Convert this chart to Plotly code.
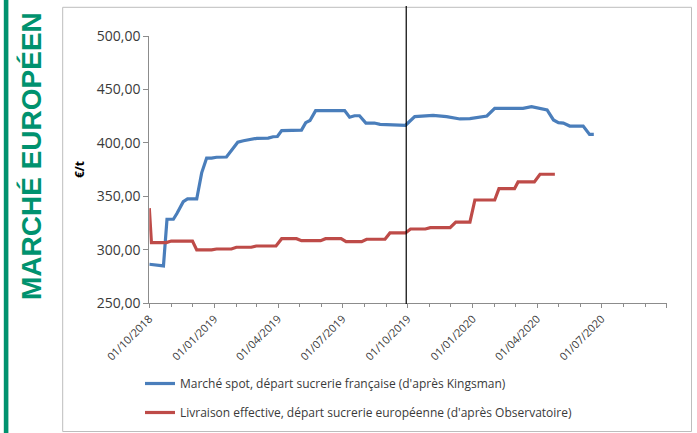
import plotly.graph_objects as go

# ---------------- data ----------------
spot_dates = ["2018-10-01", "2018-10-09", "2018-10-20", "2018-10-21", "2018-10-26", "2018-11-04",
              "2018-11-09", "2018-11-18", "2018-11-24", "2018-12-07", "2018-12-14", "2018-12-21",
              "2018-12-28", "2019-01-04", "2019-01-18", "2019-01-24", "2019-02-03", "2019-02-11",
              "2019-02-23", "2019-03-02", "2019-03-18", "2019-03-25", "2019-03-31", "2019-04-06",
              "2019-05-04", "2019-05-10", "2019-05-16", "2019-05-24", "2019-07-04", "2019-07-11",
              "2019-07-18", "2019-07-25", "2019-08-03", "2019-08-15", "2019-08-23", "2019-09-28",
              "2019-10-11", "2019-10-23", "2019-11-06", "2019-11-25", "2019-12-14", "2019-12-28",
              "2020-01-07", "2020-01-21", "2020-02-01", "2020-03-12", "2020-03-24", "2020-04-05",
              "2020-04-15", "2020-04-24", "2020-05-01", "2020-05-08", "2020-05-17", "2020-06-05",
              "2020-06-14", "2020-06-20"]
spot_values = [286.5, 286.0, 285.0, 285.0, 328.6, 328.6,
               334.0, 345.0, 347.6, 347.6, 372.0, 385.8,
               385.8, 386.6, 386.8, 391.8, 400.6, 402.0,
               403.0, 404.3, 404.5, 405.8, 406.0, 411.5,
               412.0, 419.0, 421.0, 430.2, 430.2, 424.0,
               425.4, 425.4, 418.6, 418.6, 417.4, 416.5,
               424.6, 425.5, 425.8, 424.6, 422.4, 422.8,
               424.0, 425.2, 432.4, 432.4, 434.0, 432.4,
               430.8, 421.5, 419.0, 418.5, 415.8, 415.8,
               408.0, 408.0]

livr_dates = ["2018-10-01", "2018-10-04", "2018-10-25", "2018-11-01", "2018-12-01", "2018-12-07",
              "2018-12-28", "2019-01-04", "2019-01-25", "2019-02-01", "2019-02-22", "2019-03-01",
              "2019-03-29", "2019-04-06", "2019-04-27", "2019-05-04", "2019-05-31", "2019-06-07",
              "2019-06-29", "2019-07-06", "2019-07-28", "2019-08-04", "2019-08-30", "2019-09-06",
              "2019-09-28", "2019-10-05", "2019-10-26", "2019-11-02", "2019-11-30", "2019-12-08",
              "2019-12-28", "2020-01-04", "2020-02-01", "2020-02-07", "2020-02-29", "2020-03-05",
              "2020-03-28", "2020-04-05", "2020-04-26"]
livr_values = [339.0, 306.8, 306.8, 308.2, 308.2, 300.0,
               300.0, 300.8, 300.8, 302.4, 302.4, 303.6,
               303.6, 310.4, 310.4, 308.6, 308.6, 310.4,
               310.4, 307.6, 307.6, 309.9, 309.9, 315.8,
               315.8, 319.5, 319.5, 320.7, 320.7, 326.0,
               326.0, 346.6, 346.6, 357.2, 357.2, 363.5,
               363.5, 370.7, 370.7]

tick_dates = ["2018-10-01", "2019-01-01", "2019-04-01", "2019-07-01", "2019-10-01",
              "2020-01-01", "2020-04-01", "2020-07-01", "2020-10-01"]
tick_labels = ["01/10/2018", "01/01/2019", "01/04/2019", "01/07/2019", "01/10/2019",
               "01/01/2020", "01/04/2020", "01/07/2020", ""]

marker_date = "2019-09-29"

spot_name = "Marché spot, départ sucrerie française (d'après Kingsman)"
livr_name = "Livraison effective, départ sucrerie européenne (d'après Observatoire)"
side_title = "MARCHÉ EUROPÉEN"
y_title = "€/t"

# ---------------- layout geometry (pixels) ----------------
W, H = 697, 433
PX0, PX1 = 149.3, 666.7   # plot area left / right
PY0, PY1 = 36.0, 303.3    # plot area top / bottom


def fx(xp):
    return xp / W


def fy(yp):
    return 1 - yp / H


GREEN = "#00926E"
AXIS = "#8C8C8C"
TXT = "#3A3A3A"

fig = go.Figure()
fig.add_trace(go.Scatter(x=spot_dates, y=spot_values, mode="lines", name=spot_name,
                         legendgroup="a", line=dict(color="#4A7EBB", width=3.2)))
fig.add_trace(go.Scatter(x=livr_dates, y=livr_values, mode="lines", name=livr_name,
                         legendgroup="b", line=dict(color="#BE4B48", width=3.2)))

shapes = [
    # outer chart frame
    dict(type="rect", xref="paper", yref="paper", x0=fx(62.7), x1=fx(691.5), y0=fy(431.5), y1=fy(7.3),
         line=dict(color="#BDBDBD", width=1), fillcolor="rgba(0,0,0,0)", layer="below"),
    # green side bar
    dict(type="rect", xref="paper", yref="paper", x0=fx(3.8), x1=fx(8.4), y0=0, y1=1,
         line=dict(width=0), fillcolor=GREEN),
    # vertical marker line
    dict(type="line", xref="x", yref="paper", x0=marker_date, x1=marker_date, y0=fy(304), y1=fy(6),
         line=dict(color="black", width=1.2)),
]

annotations = [
    dict(text="<b>" + side_title + "</b>", xref="paper", yref="paper", x=fx(31), y=fy(156),
         textangle=-90, showarrow=False, xanchor="center", yanchor="middle",
         font=dict(family="Liberation Sans", size=28, color=GREEN)),
    dict(text="<b>" + y_title + "</b>", xref="paper", yref="paper", x=fx(79), y=fy(170),
         textangle=-90, showarrow=False, xanchor="center", yanchor="middle",
         font=dict(family="Open Sans", size=12, color="black")),
]

fig.update_layout(
    width=W, height=H,
    margin=dict(l=0, r=0, t=0, b=0, pad=0),
    paper_bgcolor="white", plot_bgcolor="white",
    separators=", ",
    showlegend=True,
    legend=dict(x=fx(140), y=fy(369), xanchor="left", yanchor="top",
                traceorder="grouped", tracegroupgap=10,
                font=dict(family="Open Sans", size=12, color=TXT),
                bgcolor="rgba(0,0,0,0)", borderwidth=0),
    shapes=shapes,
    annotations=annotations,
    xaxis=dict(type="date", range=["2018-10-01", "2020-10-01"], domain=[fx(PX0), fx(PX1)],
               tickmode="array", tickvals=tick_dates, ticktext=tick_labels,
               tickangle=-45, ticks="outside", ticklen=4, tickcolor=AXIS,
               showline=True, linecolor=AXIS, linewidth=1, showgrid=False, zeroline=False,
               automargin=False,
               tickfont=dict(family="Open Sans", size=11, color=TXT),
               minor=dict(tickmode="linear", tick0="2018-10-01", dtick="M1",
                          ticks="outside", ticklen=3, tickcolor=AXIS, showgrid=False)),
    yaxis=dict(range=[250, 500], domain=[fy(PY1), fy(PY0)],
               tickmode="linear", tick0=250, dtick=50, tickformat=".2f",
               ticks="outside", ticklen=5, tickcolor=AXIS, automargin=False,
               showline=True, linecolor=AXIS, linewidth=1, showgrid=False, zeroline=False,
               tickfont=dict(family="Open Sans", size=14, color=TXT)),
)

fig.write_html("out.html", config={"displayModeBar": False},
               post_script="document.body.style.margin='0';document.body.style.overflow='hidden';")
